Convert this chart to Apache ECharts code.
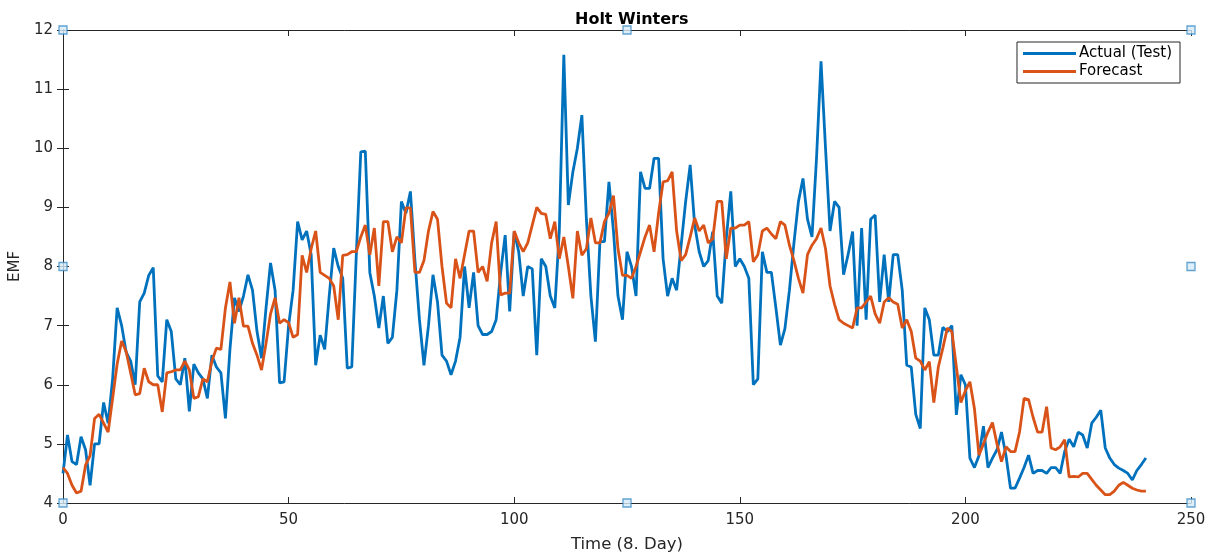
<!DOCTYPE html>
<html><head><meta charset="utf-8">
<script src="https://cdn.jsdelivr.net/npm/echarts@6/dist/echarts.min.js"></script>
<style>html,body{margin:0;padding:0;background:#fff}#c{width:1209px;height:553px}</style>
</head><body><div id="c"></div>
<script>
const xTicks = [0, 50, 100, 150, 200, 250];
const yTicks = [4, 5, 6, 7, 8, 9, 10, 11, 12];
const actual = [
4.5,5.15,4.7,4.65,5.12,4.9,4.3,5.0,5.0,5.7,5.35,6.1,7.3,7.0,6.55,6.4,6.0,7.4,7.55,7.85,
7.98,6.15,6.05,7.1,6.9,6.1,6.0,6.45,5.55,6.35,6.2,6.1,5.77,6.5,6.3,6.2,5.43,6.6,7.47,7.24,
7.5,7.86,7.6,6.9,6.45,7.3,8.06,7.6,6.03,6.05,7.0,7.6,8.76,8.45,8.6,8.2,6.33,6.84,6.6,7.5,
8.31,8.0,7.8,6.28,6.3,8.19,9.94,9.95,7.9,7.5,6.96,7.5,6.7,6.8,7.6,9.1,8.9,9.27,8.1,7.1,
6.33,7.0,7.86,7.4,6.5,6.4,6.17,6.4,6.8,8.0,7.3,7.9,7.0,6.85,6.85,6.9,7.1,7.9,8.53,7.24,
8.59,8.25,7.5,8.0,7.96,6.5,8.13,8.0,7.5,7.3,8.6,11.58,9.04,9.6,10.0,10.56,8.8,7.5,6.73,8.42,
8.42,9.43,8.6,7.5,7.1,8.25,8.0,7.5,9.6,9.32,9.32,9.83,9.83,8.13,7.5,7.8,7.6,8.36,9.1,9.72,
8.7,8.25,8.0,8.1,8.59,7.5,7.38,8.47,9.27,8.0,8.13,8.0,7.8,6.0,6.1,8.25,7.9,7.9,7.3,6.67,
6.95,7.6,8.4,9.1,9.49,8.8,8.5,9.83,11.47,10.0,8.6,9.1,9.0,7.86,8.2,8.59,7.0,8.65,7.1,8.8,
8.87,7.4,8.2,7.4,8.2,8.2,7.6,6.33,6.3,5.5,5.26,7.3,7.1,6.5,6.5,6.97,6.9,7.0,5.49,6.17,
6.0,4.76,4.6,4.8,5.3,4.6,4.76,4.9,5.2,4.8,4.25,4.25,4.42,4.6,4.81,4.5,4.55,4.55,4.5,4.6,
4.6,4.5,4.87,5.08,4.95,5.2,5.15,4.93,5.35,5.45,5.57,4.93,4.76,4.65,4.59,4.55,4.5,4.39,4.55,4.65,
4.76];
const forecast = [
4.6,4.5,4.3,4.17,4.2,4.64,4.8,5.43,5.5,5.35,5.2,5.77,6.35,6.74,6.56,6.2,5.83,5.85,6.28,6.05,
6.0,6.0,5.54,6.2,6.22,6.25,6.25,6.4,6.25,5.77,5.8,6.1,6.05,6.4,6.62,6.6,7.3,7.74,7.04,7.47,
6.99,6.99,6.7,6.5,6.25,6.7,7.2,7.47,7.04,7.1,7.05,6.8,6.85,8.19,7.9,8.3,8.6,7.9,7.85,7.8,
7.67,7.1,8.19,8.2,8.25,8.25,8.5,8.7,8.2,8.65,7.67,8.76,8.76,8.25,8.5,8.4,8.99,8.99,7.9,7.9,
8.1,8.6,8.93,8.8,8.0,7.38,7.3,8.13,7.8,8.2,8.6,8.6,7.9,8.0,7.75,8.4,8.76,7.52,7.55,7.55,
8.6,8.4,8.25,8.4,8.7,9.0,8.9,8.88,8.47,8.76,8.13,8.5,8.0,7.46,8.6,8.19,8.3,8.82,8.4,8.4,
8.76,8.9,9.2,8.3,7.85,7.85,7.8,8.0,8.25,8.5,8.7,8.25,8.9,9.43,9.45,9.6,8.6,8.1,8.2,8.5,
8.82,8.6,8.7,8.4,8.47,9.1,9.1,8.13,8.65,8.65,8.7,8.7,8.76,8.08,8.2,8.6,8.65,8.55,8.47,8.76,
8.7,8.36,8.1,7.8,7.55,8.2,8.36,8.47,8.65,8.3,7.67,7.36,7.1,7.04,7.0,6.96,7.3,7.3,7.4,7.5,
7.2,7.04,7.4,7.47,7.4,7.36,6.96,7.1,6.9,6.45,6.4,6.25,6.39,5.7,6.3,6.62,6.96,6.9,6.3,5.7,
5.9,6.05,5.6,4.81,5.0,5.2,5.36,5.0,4.7,4.95,4.87,4.87,5.2,5.77,5.75,5.45,5.2,5.2,5.63,4.93,
4.9,4.95,5.07,4.44,4.45,4.44,4.5,4.5,4.4,4.3,4.22,4.14,4.14,4.2,4.3,4.35,4.3,4.25,4.22,4.2,
4.2];
const handles = [[0,4],[125,4],[250,4],[0,8],[250,8],[0,12],[125,12],[250,12]];

const ink = '#262626';
const font = 'DejaVu Sans, Arial, sans-serif';
const chart = echarts.init(document.getElementById('c'));
const toPairs = a => a.map((v, i) => [i, v]);
const axisCommon = {
  type: 'value', min: xTicks[0], max: xTicks[xTicks.length-1], interval: 50,
  axisLine: {show: true, lineStyle: {color: ink, width: 1}},
  axisTick: {show: true, inside: true, length: 6, lineStyle: {color: ink}},
  splitLine: {show: false}
};
chart.setOption({
  animation: false,
  backgroundColor: '#fff',
  title: {text: 'Holt Winters', left: 570, top: 7,
    textStyle: {fontFamily: font, fontSize: 16, fontWeight: 'bold', color: '#000'}},
  legend: {
    data: ['Actual (Test)', 'Forecast'], orient: 'vertical', right: 29, top: 42,
    icon: 'rect', itemWidth: 53, itemHeight: 3, itemGap: 3,
    borderColor: ink, borderWidth: 1, padding: [4, 8, 4, 6], backgroundColor: '#fff',
    textStyle: {fontFamily: font, fontSize: 15, color: '#000', padding: [0,0,0,-2]}
  },
  grid: {left: 63, right: 18, top: 30, bottom: 50, containLabel: false, outerBoundsMode: 'none'},
  xAxis: [
    Object.assign({}, axisCommon, {position: 'bottom',
      name: 'Time (8. Day)', nameLocation: 'middle', nameGap: 33,
      nameTextStyle: {fontFamily: font, fontSize: 16.5, color: ink},
      axisLabel: {fontFamily: font, fontSize: 15, color: ink, margin: 10}}),
    Object.assign({}, axisCommon, {position: 'top', axisLabel: {show: false}})
  ],
  yAxis: [
    {type: 'value', min: yTicks[0], max: yTicks[yTicks.length-1], interval: 1, position: 'left',
      name: 'EMF', nameLocation: 'middle', nameGap: 40, nameRotate: 90,
      nameTextStyle: {fontFamily: font, fontSize: 15, color: ink},
      axisLine: {show: true, lineStyle: {color: ink}},
      axisTick: {show: true, inside: true, length: 6, lineStyle: {color: ink}},
      axisLabel: {fontFamily: font, fontSize: 15, color: ink, margin: 10},
      splitLine: {show: false}},
    {type: 'value', min: yTicks[0], max: yTicks[yTicks.length-1], interval: 1, position: 'right',
      axisLine: {show: true, lineStyle: {color: ink}},
      axisTick: {show: true, inside: true, length: 6, lineStyle: {color: ink}},
      axisLabel: {show: false}, splitLine: {show: false}}
  ],
  series: [
    {name: 'Actual (Test)', type: 'line', data: toPairs(actual), showSymbol: false,
      lineStyle: {color: '#0072BD', width: 2.8}, itemStyle: {color: '#0072BD'}, z: 3},
    {name: 'Forecast', type: 'line', data: toPairs(forecast), showSymbol: false,
      lineStyle: {color: '#D95319', width: 2.8}, itemStyle: {color: '#D95319'}, z: 4},
    {name: 'handles', type: 'scatter', data: handles, symbol: 'rect', symbolSize: 8, clip: false,
      itemStyle: {color: '#d6ebf7', borderColor: '#3d8cc4', borderWidth: 1.3}, z: 10,
      silent: true}
  ]
});
</script>
</body></html>
